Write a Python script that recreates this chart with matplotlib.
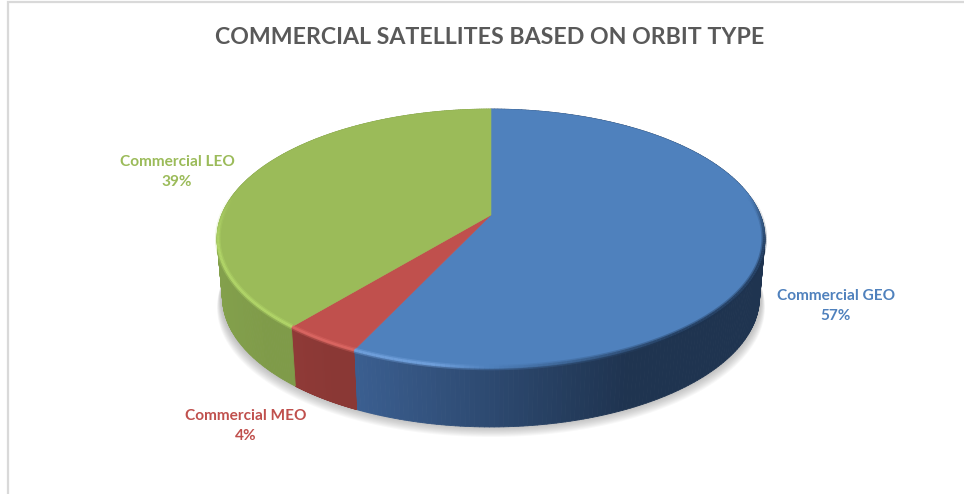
"""3D-style pie of commercial satellites by orbit type, drawn in pixel coordinates."""
import matplotlib
matplotlib.use("Agg")
import matplotlib.pyplot as plt
import numpy as np
from matplotlib.collections import LineCollection, PolyCollection
from matplotlib.colors import to_rgb
from matplotlib.patches import Polygon

plt.rcParams["font.family"] = ["Lato", "DejaVu Sans"]

TITLE = "COMMERCIAL SATELLITES BASED ON ORBIT TYPE"
NAMES = ["Commercial GEO", "Commercial MEO", "Commercial LEO"]
SHARES = [57, 4, 39]
TOP_COLORS = ["#4F81BD", "#C0504D", "#9BBB59"]
# wall shade at the left and right end of each slice
WALL_LEFT = ["#3B5F91", "#8F3A37", "#83A04C"]
WALL_RIGHT = ["#1F3450", "#8A3835", "#7F9B49"]
BEVEL_LIGHT = ["#76A6E2", "#E8726D", "#B6DB6C"]
BEVEL_DARK = "#14253D"
LABEL_POS = [(836, 306), (246, 426), (177, 172)]

W, H = 964, 494
CX, CY = 491, 215  # where the slices meet
PERSP = 0.1815
A, B = 269.4, 125.2
DEPTH = 59
BOTTOM_SCALE = 0.98


def rim(theta):
    """Top-edge point for a clockwise angle from 12 o'clock, with perspective."""
    u, v = np.sin(theta), -np.cos(theta)
    w = 1 - PERSP * v
    return CX + A * u / w, CY + B * v / w


def mix(c1, c2, t):
    c1, c2 = np.array(to_rgb(c1)), np.array(to_rgb(c2))
    return tuple(c1 + (c2 - c1) * t)


def lowered(pts_x, pts_y, dy, scale):
    return np.column_stack([CX + (pts_x - CX) * scale, pts_y + dy])


fig = plt.figure(figsize=(W / 100, H / 100), dpi=100)
ax = fig.add_axes([0, 0, 1, 1])
ax.set_xlim(0, W)
ax.set_ylim(H, 0)
ax.axis("off")

# outer frame, left and top only
ax.plot([7.5, 7.5, W], [H, 2.5, 2.5], color="#D9D9D9", lw=1.6, solid_joinstyle="miter", zorder=1)

cuts = 2 * np.pi * np.cumsum([0] + SHARES) / sum(SHARES)

# soft ground shadow under the disc
ring = np.linspace(0, 2 * np.pi, 361)
rx, ry = rim(ring)
for i in range(10):
    pts = lowered(rx, ry, DEPTH + 10 - i, 1.0 - i * 0.0015)
    ax.add_patch(Polygon(pts, closed=True, fc="#808080", ec="none", alpha=0.055, zorder=2))

# side wall, one thin quad per step so the shade can run along it
quads, shades = [], []
for k in range(len(SHARES)):
    th = np.linspace(cuts[k], cuts[k + 1], 240)
    x, y = rim(th)
    front = y > 230
    x0, x1 = x[front].min(), x[front].max()
    for j in range(len(th) - 1):
        top = np.array([[x[j], y[j]], [x[j + 1], y[j + 1]]])
        low = lowered(x[j:j + 2], y[j:j + 2], DEPTH, BOTTOM_SCALE)
        quads.append([top[0], top[1], low[1], low[0]])
        t = np.clip((x[j] - x0) / max(x1 - x0, 1) * 1.5, 0, 1)
        shades.append(mix(WALL_LEFT[k], WALL_RIGHT[k], t))
ax.add_collection(PolyCollection(quads, facecolors=shades, edgecolors=shades, linewidths=0.6, zorder=3))

# top face
for k in range(len(SHARES)):
    th = np.linspace(cuts[k], cuts[k + 1], 240)
    x, y = rim(th)
    pts = np.vstack([[CX, CY], np.column_stack([x, y])])
    ax.add_patch(Polygon(pts, closed=True, fc=TOP_COLORS[k], ec=TOP_COLORS[k], lw=0.4, zorder=4))

# bevel along the top edge: pale on the left, dark on the right, gone at the back
for lw, strength in [(4.0, 0.35), (2.0, 0.7)]:
    for k in range(len(SHARES)):
        th = np.linspace(cuts[k], cuts[k + 1], 240)
        x, y = rim(th)
        x = CX + (x - CX) * 0.997
        y = CY + (y - CY) * 0.997
        segs = [np.column_stack([x[j:j + 2], y[j:j + 2]]) for j in range(len(th) - 1)]
        cols = []
        for j in range(len(th) - 1):
            side = (CX - x[j]) / 274
            back = np.clip((y[j] - 195) / 50, 0, 1)
            if side >= 0:
                base = mix(TOP_COLORS[k], BEVEL_LIGHT[k], min(side * 5, 1))
            else:
                base = mix(TOP_COLORS[k], BEVEL_DARK, min(-side * 1.5, 1) * 0.85)
            cols.append((*base, strength * back))
        ax.add_collection(LineCollection(segs, colors=cols, linewidths=lw, capstyle="butt", zorder=5))

for name, share, pos, col in zip(NAMES, SHARES, LABEL_POS, TOP_COLORS):
    ax.text(pos[0], pos[1], f"{name}\n{share}%", color=col, fontsize=11.1, fontweight="bold",
            ha="center", va="center", linespacing=1.62, zorder=6)

ax.text(490, 37, TITLE, color="#595959", fontsize=16.7, fontweight="bold", ha="center", va="center", zorder=6)

fig.savefig("out.png", dpi=100)
